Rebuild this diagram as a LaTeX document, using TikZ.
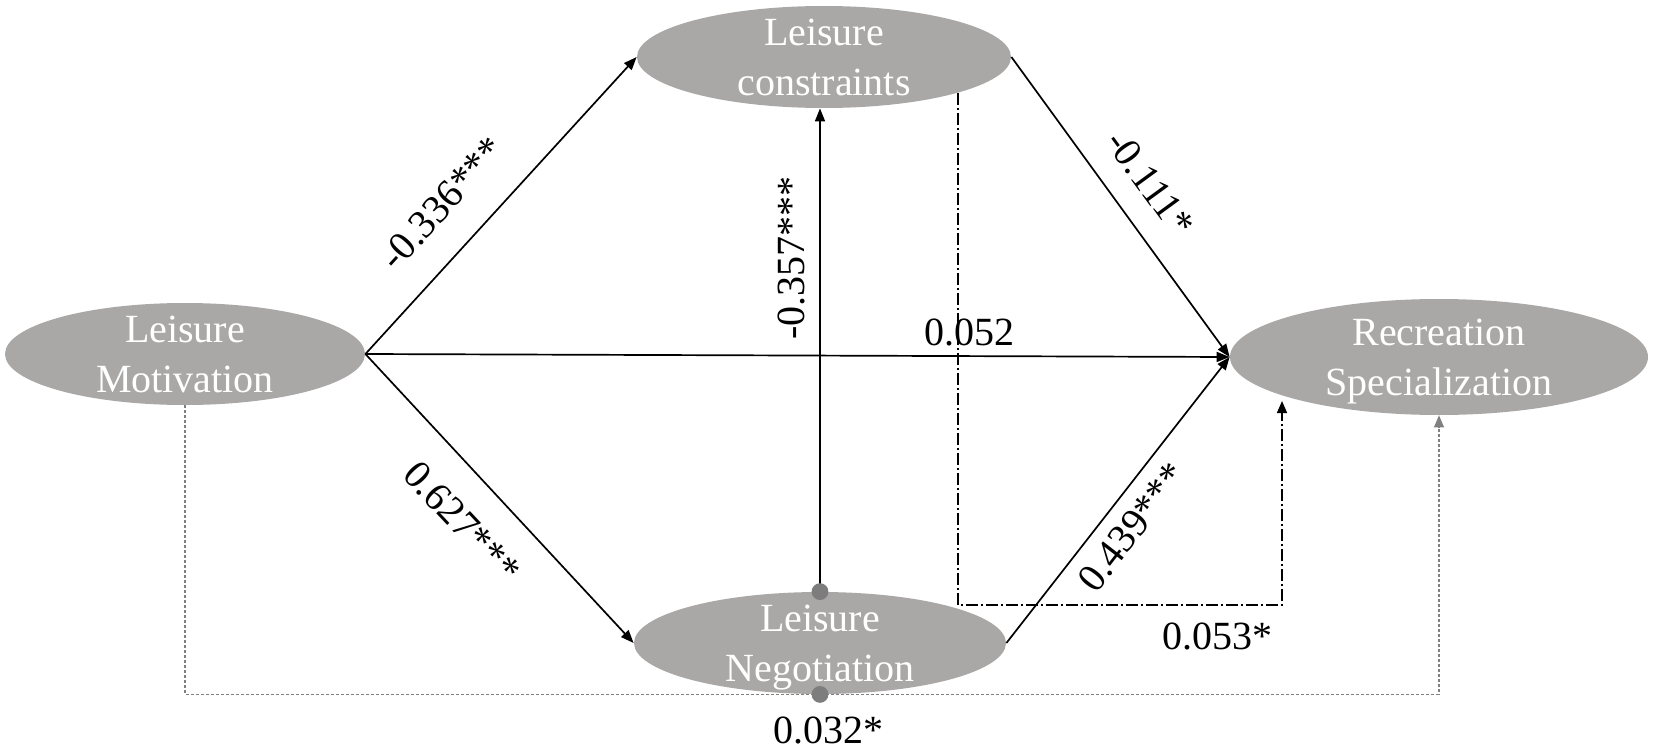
\documentclass[tikz,border=0pt]{standalone}
\usepackage{fontspec}
\setmainfont{Liberation Serif}
\usetikzlibrary{shapes.geometric,arrows.meta}
\definecolor{ellgray}{RGB}{170,167,167}
\definecolor{dotgray}{RGB}{125,125,125}
\definecolor{lgray}{RGB}{128,128,128}
\begin{document}
\begin{tikzpicture}[x=0.5pt,y=-0.5pt,
  ell/.style={ellipse, fill=ellgray, draw=none, inner sep=0pt},
  elltxt/.style={text=white, align=center, font=\fontsize{20}{25}\selectfont, inner sep=0pt, text depth=0pt},
  lab/.style={font=\fontsize{20}{24}\selectfont, inner sep=0pt},
  arr/.style={line width=0.85pt, -{Triangle[length=6.5pt,width=5pt]}},
  dd/.style={line width=0.75pt, dash pattern=on 6pt off 1.5pt on 1pt off 1.5pt, -{Triangle[length=6pt,width=5pt]}},
  gd/.style={line width=0.6pt, draw=lgray, dash pattern=on 1.5pt off 1pt, -{Triangle[length=6pt,width=5pt,fill=lgray]}}
]
\useasboundingbox (0,0) rectangle (1654,749);
% ellipses
\node[ell, minimum width=180pt, minimum height=51pt] (mot) at (185,354) {};
\node[ell, minimum width=187pt, minimum height=51pt] (con) at (824,57) {};
\node[ell, minimum width=186pt, minimum height=51pt] (neg) at (820,643) {};
\node[ell, minimum width=209pt, minimum height=58pt] (spe) at (1439,357) {};
% texts
\node[elltxt] (motT) at (mot.center) {Leisure\\Motivation};
\node[elltxt] (conT) at (con.center) {Leisure\\constraints};
\node[elltxt] (negT) at (neg.center) {Leisure\\Negotiation};
\node[elltxt] (speT) at (spe.center) {Recreation\\Specialization};
% solid paths
\draw[arr] (mot.east) -- (con.west);
\draw[arr] (mot.east) -- (neg.west);
\draw[arr] (mot.east) -- (spe.west);
\draw[arr] (con.east) -- (spe.west);
\draw[arr] (neg.east) -- (spe.west);
\draw[arr] (neg.north) -- (neg.north |- con.south);
% dash-dot indirect path
\coordinate (ddc) at (1282,605);
\coordinate (dde) at (1282,401);
\draw[dd] (con.-15.5) |- (ddc) -- (dde);
% gray dashed indirect path
\draw[gd] (mot.south) |- (neg.south) -| (spe.south);
% dots
\fill[dotgray] (neg.north) circle[radius=4.2pt];
\fill[dotgray] (neg.south) circle[radius=4.2pt];
% labels
\node[lab, rotate=47.6] (l1) at (442,203) {-0.336***};
\node[lab, rotate=-46.8] (l2) at (462,522) {0.627***};
\node[lab, rotate=90] (l3) at (791,258) {-0.357***};
\node[lab, rotate=-53.9] (l4) at (1150,183) {-0.111*};
\node[lab] (l5) at (969,332) {0.052};
\node[lab, rotate=52.1] (l6) at (1132,527) {0.439***};
\node[lab] (l7) at (1217,636) {0.053*};
\node[lab] (l8) at (828,730) {0.032*};
\end{tikzpicture}
\end{document}
